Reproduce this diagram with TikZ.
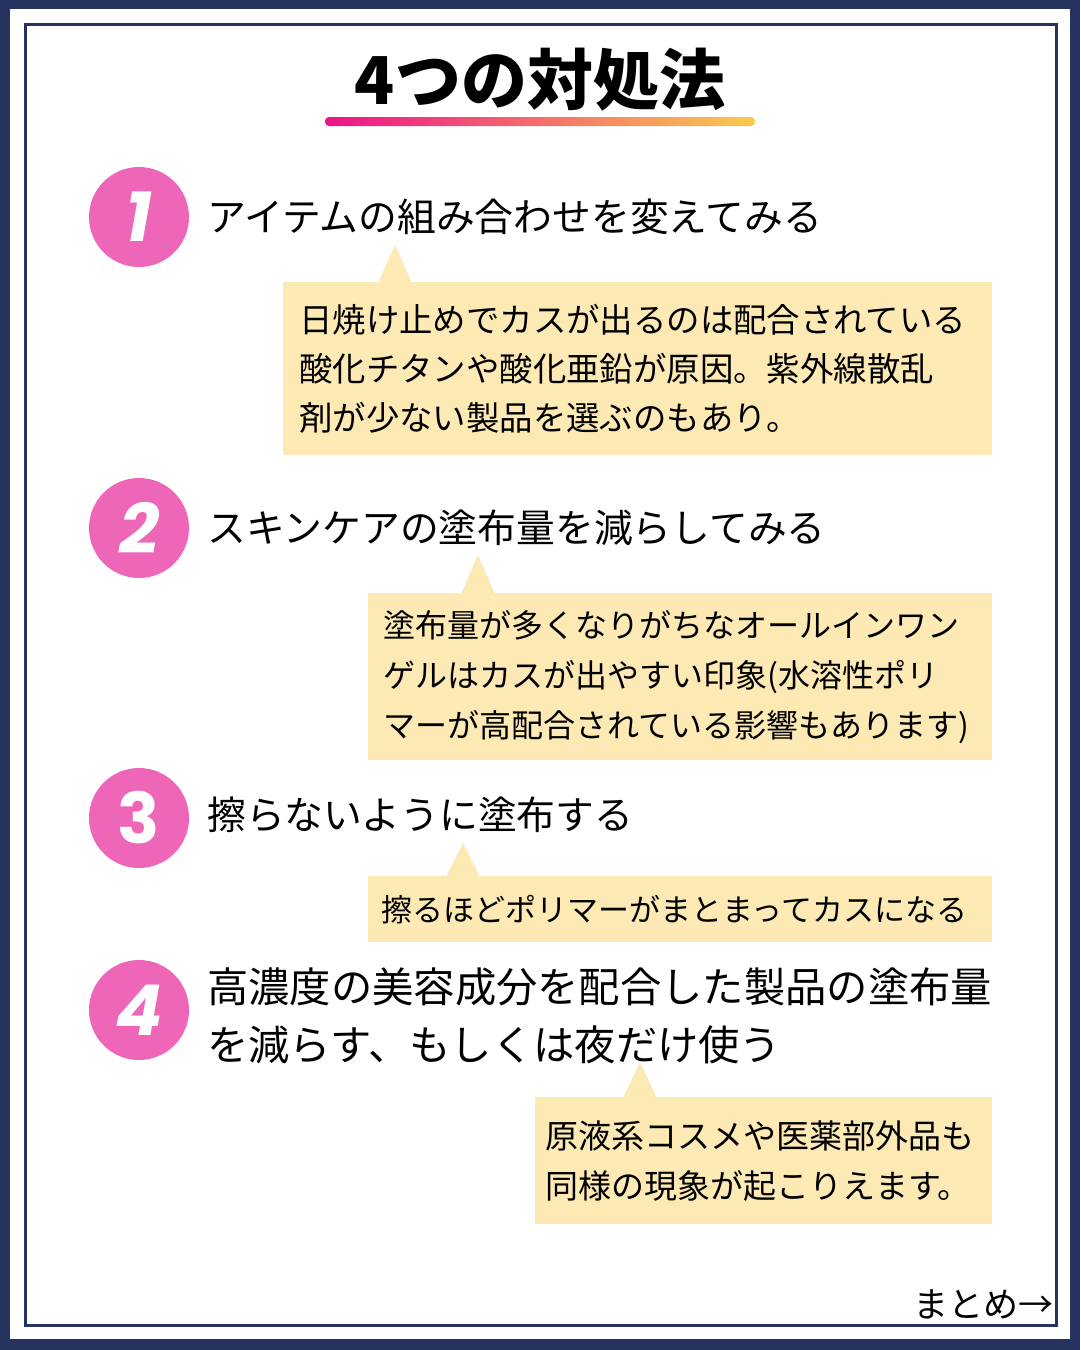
\documentclass[tikz,border=0pt]{standalone}
\usepackage{fontspec}
\newfontfamily\jp{Noto Sans CJK JP}
\newfontfamily\numfont{Poppins}
\definecolor{navy}{HTML}{27335F}
\definecolor{pinkc}{HTML}{EE66B8}
\definecolor{notebg}{HTML}{FCE9B4}
\definecolor{gradl}{HTML}{EC1389}
\definecolor{gradr}{HTML}{F9CB4E}
\tikzset{
  num/.style={circle,fill=pinkc,minimum size=100pt,inner sep=0pt,text=white,font=\numfont\bfseries\fontsize{70}{70}\selectfont},
  head/.style={anchor=west,inner sep=0pt,align=left,font=\jp\fontsize{38.8}{58}\selectfont},
  note/.style={fill=notebg,anchor=north west,inner ysep=0pt,align=left}
}
\begin{document}
\begin{tikzpicture}[x=1pt,y=-1pt]
\useasboundingbox (0,0) rectangle (1080,1350);
\fill[navy] (0,0) rectangle (1080,1350);
\fill[white] (10,9) rectangle (1070,1339);
\draw[navy,line width=3pt] (25.5,24.5) rectangle (1056,1325);
% title
\node[font=\jp\bfseries\fontsize{66}{72}\selectfont] (T) at (540,80) {4つの対処法};
\shade[left color=gradl,right color=gradr,rounded corners=4pt] (325,117) rectangle (755,126);
% numbers
\node[num] (n1) at (139,217) {\itshape 1};
\node[num] (n2) at (139,528) {\itshape 2};
\node[num] (n3) at (139,818) {3};
\node[num] (n4) at (139,1010) {\itshape 4};
% headings
\node[head] (h1) at (207,217) {アイテムの組み合わせを変えてみる};
\node[head] (h2) at (207,528) {スキンケアの塗布量を減らしてみる};
\node[head] (h3) at (207,815) {擦らないように塗布する};
\node[head,font=\jp\fontsize{41.3}{58}\selectfont] (h4) at (207,1016) {高濃度の美容成分を配合した製品の塗布量\\を減らす、もしくは夜だけ使う};
% notes
\node[note,inner xsep=16pt,text width=677pt,minimum height=173pt,font=\jp\fontsize{33.4}{49}\selectfont] (c1) at (283,282)
  {日焼け止めでカスが出るのは配合されている\\酸化チタンや酸化亜鉛が原因。紫外線散乱\\剤が少ない製品を選ぶのもあり。};
\node[note,inner xsep=15pt,text width=594pt,minimum height=167pt,font=\jp\fontsize{32}{50}\selectfont] (c2) at (368,593)
  {塗布量が多くなりがちなオールインワン\\ゲルはカスが出やすい印象(水溶性ポリ\\マーが高配合されている影響もあります)};
\node[note,inner xsep=13pt,text width=598pt,minimum height=66pt,font=\jp\fontsize{31}{40}\selectfont] (c3) at (368,876)
  {擦るほどポリマーがまとまってカスになる};
\node[note,inner xsep=10pt,text width=437pt,minimum height=127pt,font=\jp\fontsize{33}{50}\selectfont] (c4) at (535,1097)
  {原液系コスメや医薬部外品も\\同様の現象が起こりえます。};
% pointers
\coordinate (t1) at (395,245);
\coordinate (t2) at (478,555);
\coordinate (t3) at (463,843);
\coordinate (t4) at (640,1062);
\foreach \t/\c in {t1/c1,t2/c2,t3/c3,t4/c4}
  \fill[notebg] (\t) -- ([xshift=-17pt,yshift=-1pt]\t |- \c.north) -- ([xshift=17pt,yshift=-1pt]\t |- \c.north) -- cycle;
\node[anchor=east,inner sep=0pt,font=\jp\fontsize{35}{40}\selectfont] (next) at (1054,1304) {まとめ→};
\end{tikzpicture}
\end{document}
